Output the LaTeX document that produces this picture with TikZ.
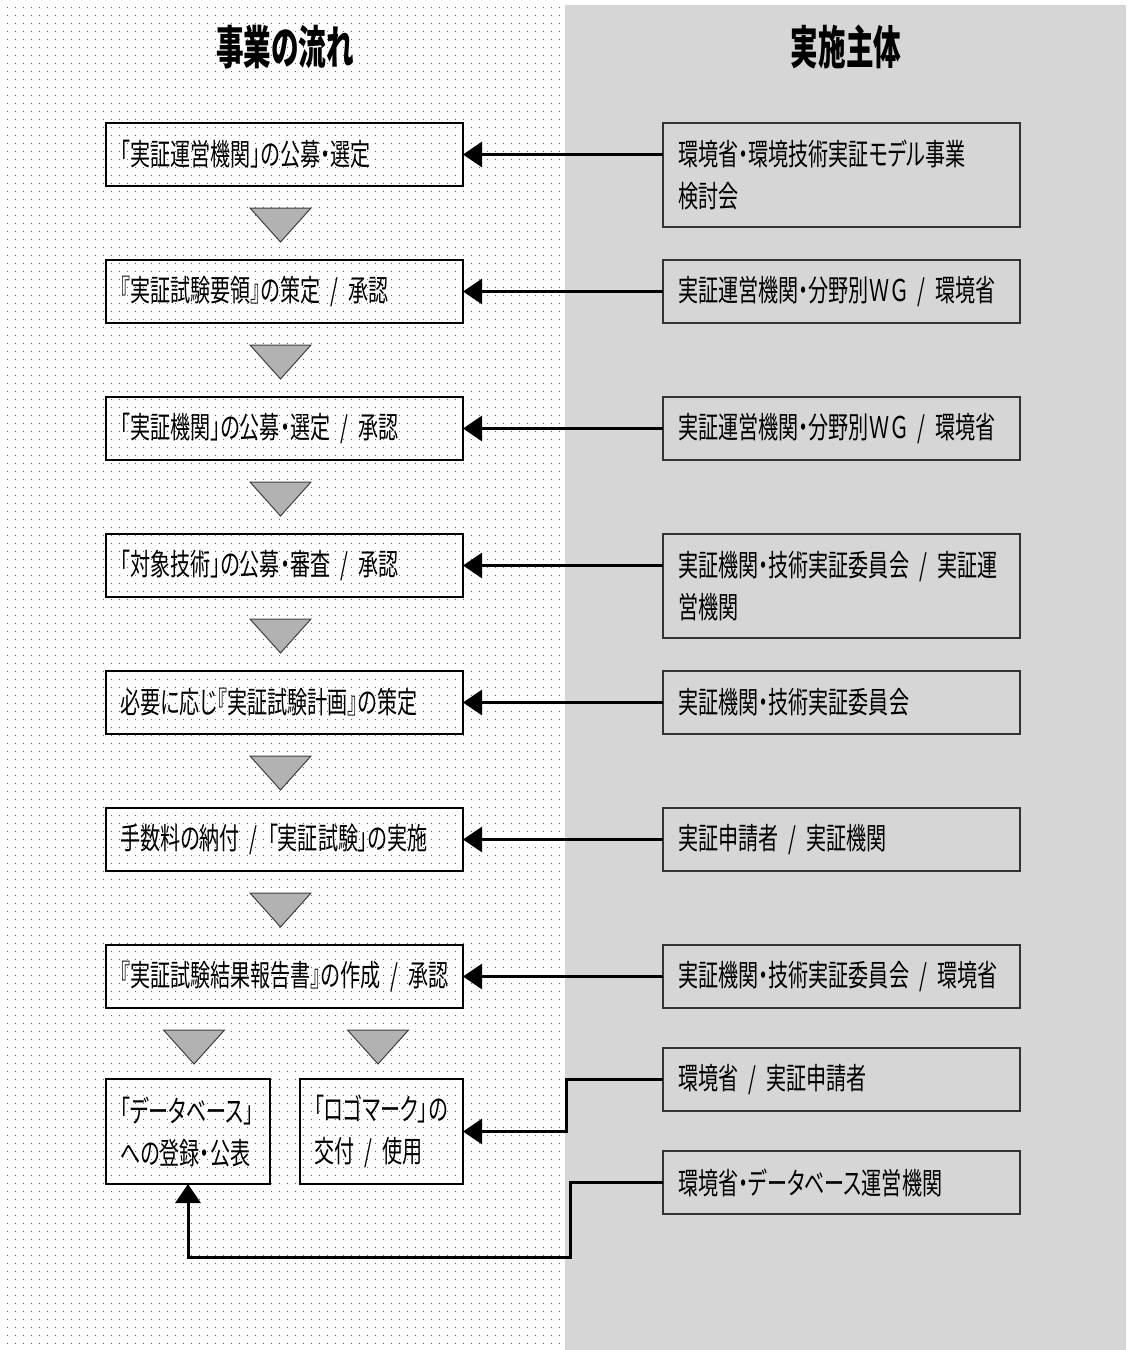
\documentclass[tikz,border=0pt]{standalone}
\usepackage{fontspec}
\usepackage{tikz}
\usetikzlibrary{positioning,arrows.meta,patterns.meta}
\newfontfamily\jpfont[FakeStretch=0.67,RawFeature=+palt,WordSpace=0.6]{Noto Sans CJK JP}
\newfontfamily\jphead[FakeStretch=0.6]{Noto Sans CJK JP}

\begin{document}
\begin{tikzpicture}[
        flowBox/.style={
            rectangle, draw = black, line width = 0.6pt, inner xsep = 7pt, inner ysep = 0pt, outer sep = 0pt,
            text width = 164.5pt, minimum height = 31.5pt, align = left,
            font = \jpfont\fontsize{15pt}{21pt}\selectfont
        },
        actorBox/.style={
            rectangle, draw = black!80, line width = 0.6pt, inner xsep = 7.5pt, inner ysep = 0pt, outer sep = 0pt,
            text width = 163.5pt, minimum height = 31.5pt, align = left,
            font = \jpfont\fontsize{15pt}{21pt}\selectfont
        },
        heading/.style={font = \jphead\bfseries\fontsize{23pt}{26pt}\selectfont},
        link/.style={line width = 1.5pt, -{Triangle[length=9.5pt,width=12.5pt]}},
        downMark/.style={draw = black!75, line width = 0.5pt, fill = black!30},
    ]
    \useasboundingbox (0pt,0pt) rectangle (563pt,-675pt);
    \fill[pattern={Dots[radius=0.35pt,distance=4pt]}, pattern color=black!60] (3.5pt,-3.5pt) rectangle (282.5pt,-675pt);
    \fill[black!16] (282.5pt,-2.5pt) rectangle (563pt,-675pt);

    \node (flowTitle) [heading] at (142.5pt,-23.5pt) {事業の流れ};
    \node (actorTitle) [heading] at (423pt,-23.5pt) {実施主体};

    % flow of the programme
    \node (selectOperator) [flowBox, anchor=north west] at (53pt,-61.5pt) {「実証運営機関」の公募・選定};
    \node (approveProtocol) [flowBox, below=37pt of selectOperator] {『実証試験要領』の策定 / 承認};
    \node (selectVerifier) [flowBox, below=37pt of approveProtocol] {「実証機関」の公募・選定 / 承認};
    \node (reviewTechnology) [flowBox, below=37pt of selectVerifier] {「対象技術」の公募・審査 / 承認};
    \node (planTest) [flowBox, below=37pt of reviewTechnology] {必要に応じ『実証試験計画』の策定};
    \node (runTest) [flowBox, below=37pt of planTest] {手数料の納付 / 「実証試験」の実施};
    \node (reportResults) [flowBox, below=37pt of runTest] {『実証試験結果報告書』の作成 / 承認};
    \node (registerData) [flowBox, text width = 68pt, minimum height = 52.5pt, below=35.5pt of reportResults.south west, anchor=north west] {「データベース」\\への登録・公表};
    \node (issueLogo) [flowBox, text width = 67.5pt, minimum height = 52.5pt, below=35.5pt of reportResults.south east, anchor=north east] {「ロゴマーク」の\\交付 / 使用};

    \foreach \n in {selectOperator,approveProtocol,selectVerifier,reviewTechnology,planTest,runTest}
        \draw[downMark] ([xshift=-17.25pt,yshift=-11pt]\n.south) -- ++(30.5pt,0) -- ++(-15.25pt,-17pt) -- cycle;
    \draw[downMark] ([xshift=-12.25pt,yshift=-11pt]registerData.north |- reportResults.south) -- ++(30.5pt,0) -- ++(-15.25pt,-17pt) -- cycle;
    \draw[downMark] ([xshift=-17pt,yshift=-11pt]issueLogo.north |- reportResults.south) -- ++(30.5pt,0) -- ++(-15.25pt,-17pt) -- cycle;

    % who carries it out
    \node (operatorActor) [actorBox, minimum height = 52pt, right=100pt of selectOperator.north east, anchor=north west] {環境省・環境技術実証モデル事業\\検討会};
    \node (protocolActor) [actorBox, right=100pt of approveProtocol.north east, anchor=north west] {実証運営機関・分野別ＷＧ / 環境省};
    \node (verifierActor) [actorBox, right=100pt of selectVerifier.north east, anchor=north west] {実証運営機関・分野別ＷＧ / 環境省};
    \node (technologyActor) [actorBox, minimum height = 52pt, right=100pt of reviewTechnology.north east, anchor=north west] {実証機関・技術実証委員会 / 実証運\\営機関};
    \node (planActor) [actorBox, right=100pt of planTest.north east, anchor=north west] {実証機関・技術実証委員会};
    \node (testActor) [actorBox, right=100pt of runTest.north east, anchor=north west] {実証申請者 / 実証機関};
    \node (reportActor) [actorBox, right=100pt of reportResults.north east, anchor=north west] {実証機関・技術実証委員会 / 環境省};
    \node (logoActor) [actorBox, below=20pt of reportActor] {環境省 / 実証申請者};
    \node (dataActor) [actorBox, below=20pt of logoActor] {環境省・データベース運営機関};

    \foreach \a/\b in {operatorActor/selectOperator,protocolActor/approveProtocol,verifierActor/selectVerifier,technologyActor/reviewTechnology,planActor/planTest,testActor/runTest,reportActor/reportResults}
        \draw[link] (\a.west |- \b.east) -- (\b.east);
    \draw[link] (logoActor.west) -- ++(-48.5pt,0) |- (issueLogo.east);
    \draw[link] (dataActor.west) -- ++(-46.5pt,0) -- ++(0,-37.5pt) -| (registerData.south);

    \end{tikzpicture}
\end{document}
